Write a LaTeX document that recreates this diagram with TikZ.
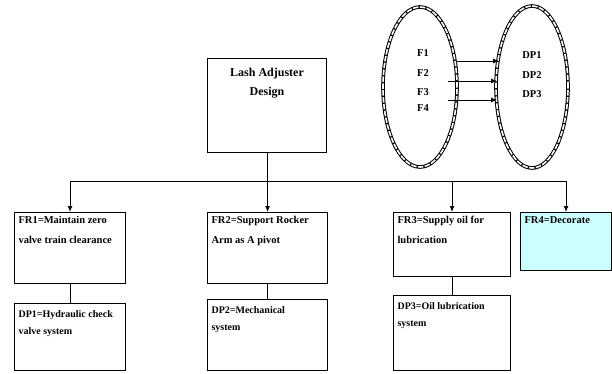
\documentclass[tikz,border=0pt]{standalone}
\usepackage{fontspec}
\setmainfont{Liberation Serif}
\usetikzlibrary{shapes.geometric, arrows.meta}
\definecolor{palecyan}{RGB}{204,255,255}
\tikzset{
  blk/.style={draw, line width=1.1pt, anchor=north west, inner sep=4pt},
  topblk/.style={blk, inner ysep=10pt, font=\bfseries\fontsize{12}{19}\selectfont},
  req/.style={blk, font=\bfseries\fontsize{10.5}{20}\selectfont},
  sol/.style={blk, inner ysep=7pt, font=\bfseries\fontsize{10}{17}\selectfont},
  ring/.style={ellipse, draw, line width=3.6pt, inner sep=0pt,
    postaction={draw=white, line width=1.6pt, dash pattern=on 5.5pt off 1.4pt}},
  tag/.style={font=\bfseries\fontsize{10.5}{12}\selectfont, inner sep=0pt},
  link/.style={line width=0.9pt, -{Latex[length=6pt,width=5pt]}},
  wire/.style={line width=0.9pt}
}
\newcommand{\boxtext}[3]{\parbox[t][#1][t]{#2}{\raggedright #3}}
\begin{document}
\begin{tikzpicture}[x=1pt, y=-1pt]
                \useasboundingbox (0,0) rectangle (612,373);
                \node[topblk] (lash) at (207,58) {\boxtext{74pt}{111pt}{\centering Lash Adjuster\\Design}};
                \node[req] (fr1) at (14,212) {\boxtext{63pt}{103pt}{FR1=Maintain zero\\valve train clearance}};
                \node[req] (fr2) at (207,212) {\boxtext{63pt}{112pt}{FR2=Support Rocker\\Arm as A pivot}};
                \node[req] (fr3) at (393,212) {\boxtext{56pt}{109pt}{FR3=Supply oil for\\lubrication}};
                \node[req, fill=palecyan] (fr4) at (520,212) {\boxtext{50pt}{83pt}{FR4=Decorate}};
                \node[sol] (dp1) at (14,303) {\boxtext{53pt}{103pt}{DP1=Hydraulic check\\valve system}};
                \node[sol] (dp2) at (207,299) {\boxtext{57pt}{112pt}{DP2=Mechanical\\system}};
                \node[sol] (dp3) at (393,295) {\boxtext{61pt}{109pt}{DP3=Oil lubrication\\system}};
                \coordinate (bus) at (lash.south |- 0,181);
                \draw[wire] (lash.south) -- (bus);
                \foreach \n in {fr1,fr2,fr3,fr4}
                  \draw[link] (bus) -| (\n.north);
                \foreach \i in {1,2,3}
                  \draw[wire] (fr\i.south) -- (dp\i.north);
                \node[ring, minimum width=74pt, minimum height=160pt] (fset) at (420,87) {};
                \node[ring, minimum width=72pt, minimum height=162pt] (dpset) at (532,87) {};
                \node[tag] (f1) at (423,53) {F1};
                \node[tag] (f2) at (423,73) {F2};
                \node[tag] (f3) at (423,92) {F3};
                \node[tag] (f4) at (423,108) {F4};
                \node[tag] (d1) at (532,55) {DP1};
                \node[tag] (d2) at (532,75) {DP2};
                \node[tag] (d3) at (532,94) {DP3};
                \coordinate (a1) at (456,61);
                \coordinate (b1) at (499,61);
                \coordinate (a2) at (448,81);
                \coordinate (b2) at (497,81);
                \coordinate (a3) at (448,100);
                \coordinate (b3) at (497,100);
                \foreach \i in {1,2,3}
                  \draw[link] (a\i) -- (b\i);
            \end{tikzpicture}
\end{document}
